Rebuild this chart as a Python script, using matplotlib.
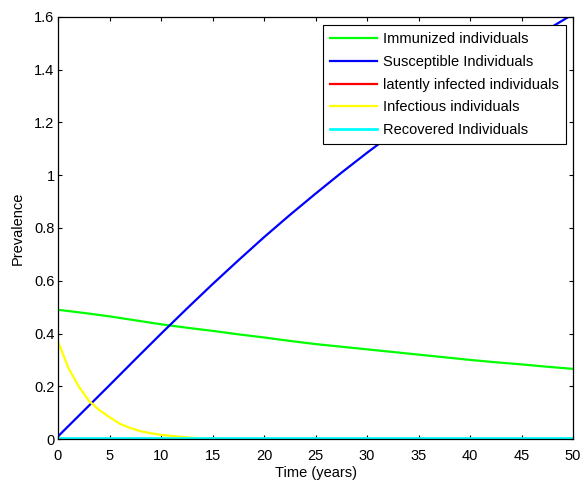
import numpy as np
import matplotlib
matplotlib.use("Agg")
import matplotlib.pyplot as plt

plt.rcParams['font.family'] = ['Liberation Sans', 'DejaVu Sans']

# time axis (years)
t = [0, 2.5, 5, 7.5, 10, 12.5, 15, 17.5, 20, 22.5, 25, 27.5, 30, 32.5,
     35, 37.5, 40, 42.5, 45, 47.5, 50]

immunized = [0.49, 0.478, 0.465, 0.45, 0.435, 0.422, 0.41, 0.397, 0.385, 0.372,
             0.36, 0.35, 0.34, 0.33, 0.32, 0.31, 0.30, 0.291, 0.283, 0.274, 0.266]
susceptible = [0.01, 0.107, 0.204, 0.302, 0.399, 0.494, 0.587, 0.677, 0.765, 0.849,
               0.93, 1.009, 1.085, 1.158, 1.229, 1.298, 1.365, 1.43, 1.492, 1.552, 1.61]
latent = [0.002] * len(t)
recovered = [0.004] * len(t)

# infectious decays fast, read at finer steps
t_inf = [0, 1, 2, 3, 4, 5, 6, 7, 8, 9, 10, 11, 12, 13, 14, 15, 20, 30, 40, 50]
infectious = [0.37, 0.27, 0.20, 0.145, 0.11, 0.083, 0.058, 0.042, 0.03, 0.022,
              0.016, 0.012, 0.008, 0.005, 0.003, 0.002, 0.0, 0.0, 0.0, 0.0]

fig = plt.figure(figsize=(5.8, 4.83), dpi=100)
ax = fig.add_axes([0.1, 0.091, 0.888, 0.874])

ax.plot(t, immunized, color=(0, 1, 0), lw=1.6, label='Immunized individuals')
ax.plot(t, susceptible, color=(0, 0, 1), lw=1.6, label='Susceptible Individuals')
ax.plot(t, latent, color=(1, 0, 0), lw=1.6, label='latently infected individuals')
ax.plot(t_inf, infectious, color=(1, 1, 0), lw=1.6, label='Infectious individuals')
ax.plot(t, recovered, color=(0, 1, 1), lw=2, label='Recovered Individuals')

ax.set_xlim(0, 50)
ax.set_ylim(0, 1.6)
ax.set_xticks(np.arange(0, 51, 5))
ax.set_yticks([0, 0.2, 0.4, 0.6, 0.8, 1, 1.2, 1.4, 1.6])
ax.set_yticklabels(['0', '0.2', '0.4', '0.6', '0.8', '1', '1.2', '1.4', '1.6'])
ax.tick_params(direction='in', top=True, right=True, length=3, width=0.8,
               labelsize=10.5)
ax.tick_params(axis='x', pad=7)
ax.tick_params(axis='y', pad=2.5)
for s in ax.spines.values():
    s.set_linewidth(0.9)

ax.set_xlabel('Time (years)', fontsize=10.5, labelpad=2.5)
ax.set_ylabel('Prevalence', fontsize=10.5, labelpad=7)

leg = ax.legend(loc='upper right', bbox_to_anchor=(0.992, 0.988), fontsize=10.5,
                handlelength=3.2, handletextpad=0.4, labelspacing=0.6,
                borderpad=0.5, fancybox=False, framealpha=1,
                borderaxespad=0.2)
leg.get_frame().set_edgecolor('black')
leg.get_frame().set_linewidth(0.8)

fig.savefig('out.png', dpi=100)
